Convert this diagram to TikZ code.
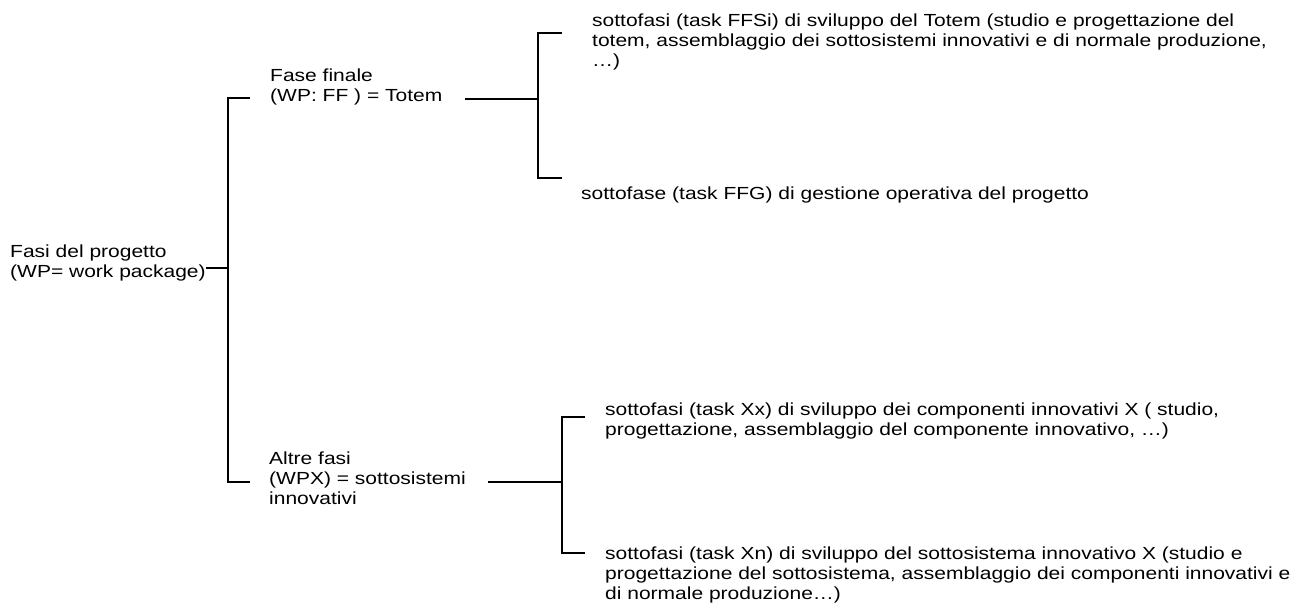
\documentclass[tikz,border=0pt]{standalone}
\usepackage{fontspec}
\setmainfont{Liberation Sans}[FakeStretch=1.2]
\begin{document}
\begin{tikzpicture}[x=1pt,y=-1pt,
  lbl/.style={anchor=north west, inner sep=0pt, align=left,
              font=\fontsize{17.5}{19.7}\selectfont},
  conn/.style={line width=1.8pt, black}]
\useasboundingbox (0,0) rectangle (1304,610);

% labels
\node[lbl] (root) at (10,245) {Fasi del progetto\\(WP= work package)};
\node[lbl] (ff) at (270,69) {Fase finale\\(WP: FF ) = Totem};
\node[lbl] (af) at (269,452) {Altre fasi\\(WPX) = sottosistemi\\innovativi};
\node[lbl] (ffs) at (592,14) {sottofasi (task FFSi) di sviluppo del Totem (studio e progettazione del\\totem, assemblaggio dei sottosistemi innovativi e di normale produzione,\\…)};
\node[lbl] (ffg) at (581,187) {sottofase (task FFG) di gestione operativa del progetto};
\node[lbl] (xx) at (605,403) {sottofasi (task Xx) di sviluppo dei componenti innovativi X ( studio,\\progettazione, assemblaggio del componente innovativo, …)};
\node[lbl] (xn) at (605,547) {sottofasi (task Xn) di sviluppo del sottosistema innovativo X (studio e\\progettazione del sottosistema, assemblaggio dei componenti innovativi e\\di normale produzione…)};

% bracket joints
\coordinate (rootJ) at (228,268);
\coordinate (ffJ) at (228,98);
\coordinate (afJ) at (228,482);
\coordinate (ffIn) at (250,98);
\coordinate (afIn) at (250,482);
\coordinate (ffOut) at (465,99);
\coordinate (ffB) at (538,99);
\coordinate (ffBt) at (538,33);
\coordinate (ffBb) at (538,178);
\coordinate (ffsIn) at (562,33);
\coordinate (ffgIn) at (562,178);
\coordinate (afOut) at (488,482);
\coordinate (afB) at (562,482);
\coordinate (afBt) at (562,417);
\coordinate (afBb) at (562,553);
\coordinate (xxIn) at (585,417);
\coordinate (xnIn) at (585,553);

% root bracket
\draw[conn] (root.east |- rootJ) -- (rootJ);
\draw[conn] (ffIn) -- (ffJ) -- (afJ) -- (afIn);

% final phase bracket
\draw[conn] (ffOut) -- (ffB);
\draw[conn] (ffsIn) -- (ffBt) -- (ffBb) -- (ffgIn);

% other phases bracket
\draw[conn] (afOut) -- (afB);
\draw[conn] (xxIn) -- (afBt) -- (afBb) -- (xnIn);
\end{tikzpicture}
\end{document}
